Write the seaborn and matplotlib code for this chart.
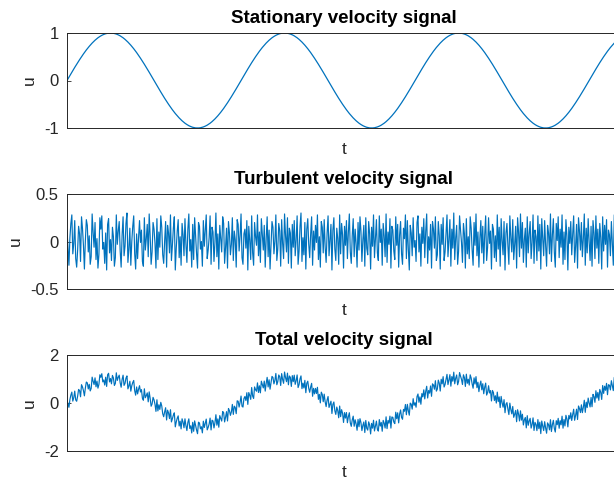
import numpy as np
import pandas as pd
import matplotlib
matplotlib.use("Agg")
import matplotlib.pyplot as plt
import seaborn as sns

# Sampling step of the time axis (2 degrees of phase per sample)
sample_step = np.pi / 90

# One full cycle (180 samples) of the mean (stationary) velocity
sine_cycle = [
    0, 0.035, 0.070, 0.105, 0.139, 0.174, 0.208, 0.242, 0.276, 0.309, 0.342, 0.375, 0.407, 0.438, 0.469, 0.5,
    0.530, 0.559, 0.588, 0.616, 0.643, 0.669, 0.695, 0.719, 0.743, 0.766, 0.788, 0.809, 0.829, 0.848, 0.866,
    0.883, 0.899, 0.914, 0.927, 0.940, 0.951, 0.961, 0.970, 0.978, 0.985, 0.990, 0.995, 0.998, 0.999, 1,
    0.999, 0.998, 0.995, 0.990, 0.985, 0.978, 0.970, 0.961, 0.951, 0.940, 0.927, 0.914, 0.899, 0.883, 0.866,
    0.848, 0.829, 0.809, 0.788, 0.766, 0.743, 0.719, 0.695, 0.669, 0.643, 0.616, 0.588, 0.559, 0.530, 0.5,
    0.469, 0.438, 0.407, 0.375, 0.342, 0.309, 0.276, 0.242, 0.208, 0.174, 0.139, 0.105, 0.070, 0.035,
    0, -0.035, -0.070, -0.105, -0.139, -0.174, -0.208, -0.242, -0.276, -0.309, -0.342, -0.375, -0.407, -0.438, -0.469, -0.5,
    -0.530, -0.559, -0.588, -0.616, -0.643, -0.669, -0.695, -0.719, -0.743, -0.766, -0.788, -0.809, -0.829, -0.848, -0.866,
    -0.883, -0.899, -0.914, -0.927, -0.940, -0.951, -0.961, -0.970, -0.978, -0.985, -0.990, -0.995, -0.998, -0.999, -1,
    -0.999, -0.998, -0.995, -0.990, -0.985, -0.978, -0.970, -0.961, -0.951, -0.940, -0.927, -0.914, -0.899, -0.883, -0.866,
    -0.848, -0.829, -0.809, -0.788, -0.766, -0.743, -0.719, -0.695, -0.669, -0.643, -0.616, -0.588, -0.559, -0.530, -0.5,
    -0.469, -0.438, -0.407, -0.375, -0.342, -0.309, -0.276, -0.242, -0.208, -0.174, -0.139, -0.105, -0.070, -0.035,
]

# The record holds three full cycles plus the start of a fourth
stationary = sine_cycle * 3 + sine_cycle[:34]

# Fluctuating (turbulent) velocity component, in hundredths
turbulent_cents = [
    12, -7, -25, 4, 19, 28, -13, -2, 22, -18, -27, -9, 16, 8, -21, 26, 14, -4, -29, 1,
    23, 17, -11, 6, -24, -16, 29, 10, -6, 20, -19, 3, -28, -14, 25, 13, 27, -8, -1, -23,
    9, -30, 18, 24, -12, 2, -20, 15, 5, -26, -17, 28, -3, 11, 21, -10, -27, 7, 26, -15,
    -5, 19, 30, -22, -8, 14, -25, 0, 16, 27, -13, -29, 8, -18, 4, 22, -1, 12, -21, -26,
    25, -9, 3, 18, -16, 29, 6, -24, -11, 20, 13, -2, -28, 24, -19, 10, -6, 27, 15, -14,
    -23, 1, 21, -27, 17, 9, -12, 28, -20, -4, 14, 26, -30, -7, 11, 23, -17, 5, -25, 19,
    7, -15, 24, -3, -22, 13, 29, -10, 2, -27, 18, -19, 25, 6, -13, -28, 20, 16, -8, 0,
    -26, 22, -5, 12, 28, -18, -9, 4, 27, -24, 15, 10, -21, -1, 30, -16, 8, -29, 17, 3,
    -11, 26, 19, -23, -6, 14, -28, 21, 9, -14, -3, 25, -20, 11, 2, -27, 23, 18, -10, 6,
    29, -17, -24, 8, 13, -7, 22, -30, 16, 1, -19, 27, -12, -25, 20, 5, -4, 28, -15, 10,
    -22, 24, 7, -9, 17, -27, 3, 26, -16, 12, -29, -5, 21, 15, -13, 0, 28, -20, -8, 19,
    11, -26, 23, -2, -18, 29, 6, -11, 25, -23, 14, 9, -28, 18, -6, 22, -15, 2, 27, -24,
    -10, 16, 30, -21, 4, -14, 20, -29, 13, 24, -3, -17, 8, 26, -25, 11, -9, 17, -1, 28,
    -19, 5, -27, 21, 15, -12, 23, -6, -22, 9, 27, -15, 1, 18, -30, 12, 25, -8, -20, 14,
    3, -24, 28, -13, 19, 7, -28, 16, -4, 22, -18, 10, 29, -11, -23, 6, 24, -16, 13, -2,
    -27, 20, -9, 26, 11, -21, 2, 17, -26, 25, -7, -14, 21, 8, -29, 15, -5, 28, -17, 4,
    23, -12, -20, 27, -1, 13, -25, 19, 6, -16, 29, -22, 10, -3, 24, -28, 16, 12, -10, -19,
    26, -4, 18, -27, 7, 21, -13, -24, 14, 3, 28, -18, 22, -8, -30, 17, 9, -15, 25, -6,
    1, -21, 20, 27, -11, 8, -26, 15, -2, 24, -17, 11, 29, -23, 5, -9, 18, -28, 21, 13,
    -7, 26, -20,
    -14, 21, 6, -29, 18, -3, 25, -20, -11, 9, 28, -16, 2, 23, -26, 13, -7, 30, -19, 4,
    17, -24, -10, 27, 12, -1, -22, 19, 8, -28, 24, -13, 5, -18, 26, 14, -9, -25, 20, -4,
    29, -15, 10, -27, 3, 22, -12, 16, -23, 7, 27, -20, -6, 25, -2, 11, -29, 18, 13, -17,
    6, -21, 28, -8, 15, -26, 24, 1, -14, 21, -30, 9, 19, -5, -24, 27, 4, -11, 23, -19,
    -3, 16, -28, 25, 10, -16, 29, -7, 20, -22, 2, 14, -27, 26, -12, 8, 21, -18, -1, 28,
    -23, 12, 5, -20, 27, -10, 18, -29, 24, 3, -15, 22, -4, -26, 17, 9, -13, 29, -21, 7,
    24, -11, -27, 19, 1, 26, -17, 13, -6, 28, -24, 10, -19, 23, 6, -30, 15, -2, 21, -14,
    8, 27, -22, -5, 18, -28, 25, 11, -9, 20, -16, 3, 29, -25, 14, -12, 24, 0, -20, 16,
    -26, 22, 9, -18, 27, -7, 13, -23, 19, 4, -29, 26, -10, 17, -3, 23, -27, 12, 7, -15,
    21, -1, -25, 28, -13, 16, 2, -21, 25, -8, 11, -28, 20, 6, -17, 29, -4, -22, 18, 10,
    -12, 26, -19,
]

titles = ["Stationary velocity signal", "Turbulent velocity signal", "Total velocity signal"]
y_limits = [(-1, 1), (-0.5, 0.5), (-2, 2)]
y_ticks = [[-1, 0, 1], [-0.5, 0, 0.5], [-2, 0, 2]]
y_ticklabels = [["-1", "0", "1"], ["-0.5", "0", "0.5"], ["-2", "0", "2"]]
t_limits = (0, 20)

u_mean = np.asarray(stationary, dtype=float)
u_turb = np.asarray(turbulent_cents, dtype=float) / 100.0
n = min(len(u_mean), len(u_turb))
t = np.arange(n) * sample_step

df = pd.DataFrame({
    "t": t,
    "stationary": u_mean[:n],
    "turbulent": u_turb[:n],
})
df["total"] = df["stationary"] + df["turbulent"]

sns.set_theme(style="white")
plt.rcParams["font.family"] = ["Liberation Sans", "DejaVu Sans"]

W, H = 614, 479
fig = plt.figure(figsize=(W / 100, H / 100), dpi=100)
fig.patch.set_facecolor("white")

# axes boxes in pixels: (left, top, right, bottom); the right edge runs past the figure
boxes = [(67, 33, 621, 128), (67, 194, 621, 289), (67, 355, 621, 451)]
columns = ["stationary", "turbulent", "total"]
dark = "#262626"
line_color = "#0072BD"
widths = [0.9, 0.85, 0.85]

for box, col, title, ylim, yt, ytl, lw in zip(boxes, columns, titles, y_limits,
                                              y_ticks, y_ticklabels, widths):
    l, tp, r, b = box
    ax = fig.add_axes([l / W, 1 - b / H, (r - l) / W, (b - tp) / H])
    sns.lineplot(data=df, x="t", y=col, ax=ax, color=line_color, linewidth=lw,
                 estimator=None, sort=False)
    ax.set_xlim(*t_limits)
    ax.set_ylim(*ylim)
    ax.set_xticks([])
    ax.set_yticks(yt)
    ax.set_yticklabels(ytl)
    ax.tick_params(axis="y", direction="in", length=3, width=0.6, colors=dark,
                   labelsize=12, pad=6, left=True)
    for s in ax.spines.values():
        s.set_color(dark)
        s.set_linewidth(0.7)
    ax.set_xlabel("t", fontsize=12.5, color=dark, labelpad=10)
    ax.set_ylabel("u", fontsize=12.5, color=dark, labelpad=5)
    ax.set_title(title, fontsize=13.5, fontweight="bold", color="black", pad=7)
    ax.set_facecolor("white")

fig.savefig("out.png", dpi=100, facecolor="white")
